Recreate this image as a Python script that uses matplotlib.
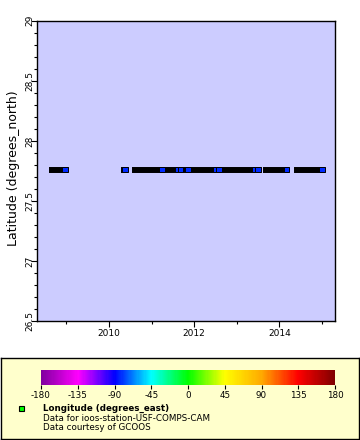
import matplotlib
matplotlib.use("Agg")
import matplotlib.pyplot as plt
from matplotlib.colors import LinearSegmentedColormap, Normalize
from matplotlib.cm import ScalarMappable
from matplotlib.ticker import MultipleLocator, FixedLocator

# station position
station_lat = 27.76
station_lon = -82.7

# periods with data (decimal year)
seg_start = [2008.66, 2010.35, 2010.61, 2013.69, 2014.42]
seg_end = [2008.96, 2010.38, 2013.50, 2014.16, 2015.01]

# last-drawn (visible) samples
pt_time = [2008.96, 2010.38, 2011.24, 2011.61, 2011.68, 2011.86,
           2012.51, 2012.59, 2013.42, 2013.50, 2014.17, 2015.01]
pt_lon = [station_lon] * len(pt_time)

cbar_ticks = [-180, -135, -90, -45, 0, 45, 90, 135, 180]
year_ticks = [2010, 2012, 2014]

rainbow = LinearSegmentedColormap.from_list("erddap_rainbow", [
    "#80009f", "#ff00ff", "#0000ff", "#00ffff", "#00ff00",
    "#ffff00", "#ffaa00", "#ff0000", "#800000"])
norm = Normalize(vmin=-180, vmax=180)

plt.rcParams["font.family"] = "DejaVu Sans"
plt.rcParams["axes.unicode_minus"] = False
fig = plt.figure(figsize=(3.6, 4.4), dpi=100)
fig.patch.set_facecolor("white")

ax = fig.add_axes([36.7 / 360, 1 - 321 / 440, 298.3 / 360, 300.3 / 440])
ax.set_facecolor("#ccccff")

ax.hlines([station_lat] * len(seg_start), seg_start, seg_end, colors="black",
          linewidth=4.3, capstyle="projecting", zorder=2)
ax.scatter(pt_time, [station_lat] * len(pt_time), c=pt_lon, cmap=rainbow, norm=norm,
           marker="s", s=4.0 ** 2, edgecolors="black", linewidths=0.7, zorder=3)

ax.set_xlim(2008.30, 2015.31)
ax.set_ylim(26.5, 29)
ax.xaxis.set_major_locator(FixedLocator(year_ticks))
ax.xaxis.set_minor_locator(MultipleLocator(1))
ax.yaxis.set_major_locator(MultipleLocator(0.5))
ax.yaxis.set_minor_locator(MultipleLocator(0.1))
ax.yaxis.set_major_formatter(plt.FuncFormatter(lambda v, p: f"{v:g}"))
ax.tick_params(which="major", direction="out", length=4, width=0.8, labelsize=6.5, pad=2)
ax.tick_params(which="minor", direction="out", length=2, width=0.8)
ax.tick_params(axis="y", which="major", labelrotation=90, pad=-2)
for lab in ax.get_yticklabels():
    lab.set_va("center")
for s in ax.spines.values():
    s.set_linewidth(1.0)

ax.set_ylabel("Latitude (degrees_north)", fontsize=9)
ax.yaxis.label.set_va("center")
ax.yaxis.set_label_coords(-0.079, 0.51)

# legend box
leg = fig.add_axes([1 / 360, 1 - 438.5 / 440, 357.5 / 360, 81 / 440])
leg.set_facecolor("#ffffcc")
leg.set_xticks([])
leg.set_yticks([])
for s in leg.spines.values():
    s.set_linewidth(1.0)

cax = fig.add_axes([41 / 360, 1 - 384.7 / 440, 294 / 360, 14.7 / 440])
cb = fig.colorbar(ScalarMappable(norm=norm, cmap=rainbow), cax=cax,
                  orientation="horizontal", ticks=cbar_ticks)
cb.outline.set_visible(False)
cax.tick_params(direction="out", length=3, width=0.8, labelsize=6.3, pad=1.5)

fig.patches.append(plt.Rectangle((19 / 360, 1 - 411 / 440), 5 / 360, 5 / 440,
                                 transform=fig.transFigure, facecolor="#00ff00",
                                 edgecolor="black", linewidth=0.8))
fig.text(43 / 360, 1 - 408.3 / 440, "Longitude (degrees_east)", fontsize=6.3,
         fontweight="bold", va="center", ha="left")
fig.text(43 / 360, 1 - 418 / 440, "Data for ioos-station-USF-COMPS-CAM", fontsize=6.3,
         va="center", ha="left")
fig.text(43 / 360, 1 - 427 / 440, "Data courtesy of GCOOS", fontsize=6.3,
         va="center", ha="left")

fig.savefig("out.png", dpi=100)
